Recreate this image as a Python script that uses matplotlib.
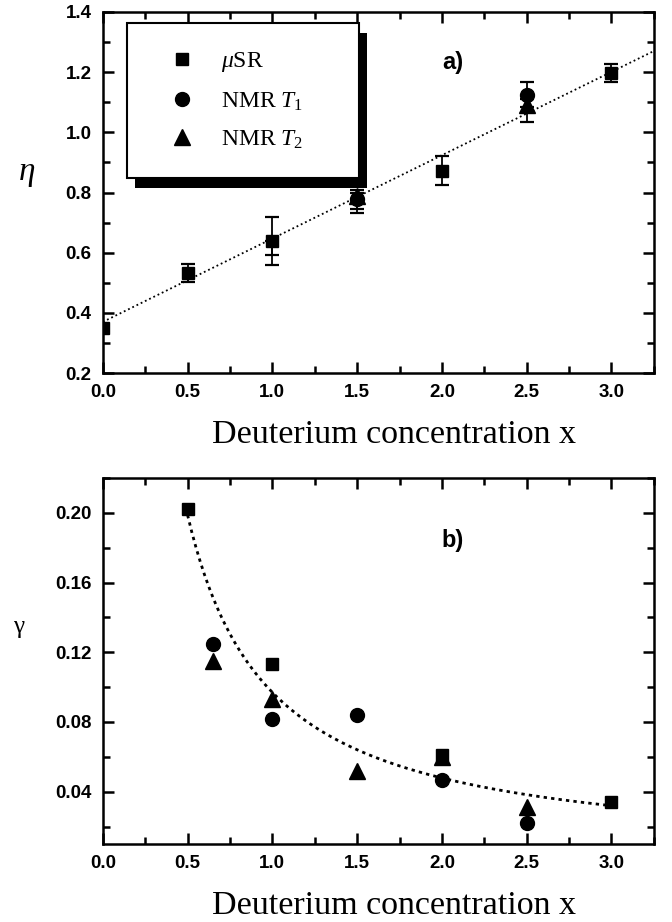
"""
Two panels: eta and gamma vs deuterium concentration, with fit lines.
"""
import numpy as np
import matplotlib
matplotlib.use("Agg")
import matplotlib.pyplot as plt
from matplotlib.lines import Line2D
from matplotlib.patches import Rectangle
from matplotlib.ticker import MultipleLocator, FormatStrFormatter

plt.rcParams.update(
    {
        "font.family": "Liberation Sans",
        "mathtext.fontset": "custom",
        "mathtext.rm": "Liberation Serif",
        "mathtext.it": "Liberation Serif:italic",
        "mathtext.bf": "Liberation Serif:bold",
        "axes.linewidth": 1.8,
    }
)

# ---- panel a) data
eta_musr_x = [0.0, 0.5, 1.0, 2.0, 3.0]
eta_musr = [0.35, 0.532, 0.64, 0.873, 1.197]
eta_musr_err = [0.0, 0.03, 0.08, 0.048, 0.03]

eta_t1_x = [1.5, 2.5]
eta_t1 = [0.78, 1.125]
eta_t1_lo = [0.035, 0.04]
eta_t1_hi = [0.02, 0.042]

# NMR T1 at x=1.0 sits under the muSR square, only its error bar shows
eta_t1_hidden_x = [1.0]
eta_t1_hidden = [0.64]
eta_t1_hidden_err = [0.048]

eta_t2_x = [1.5, 2.5]
eta_t2 = [0.79, 1.09]
eta_t2_lo = [0.058, 0.056]
eta_t2_hi = [0.02, 0.02]

eta_fit_intercept = 0.370
eta_fit_slope = 0.277

# ---- panel b) data
gam_musr_x = [0.5, 1.0, 2.0, 3.0]
gam_musr = [0.202, 0.113, 0.061, 0.034]
gam_t1_x = [0.65, 1.0, 1.5, 2.0, 2.5]
gam_t1 = [0.125, 0.082, 0.084, 0.047, 0.022]
gam_t2_x = [0.65, 1.0, 1.5, 2.0, 2.5]
gam_t2 = [0.115, 0.093, 0.052, 0.060, 0.031]

# gamma fit: a * x**(-b) + c
gam_fit_a, gam_fit_b, gam_fit_c = 0.095, 1.05, 0.002
gam_fit_range = (0.5, 3.0)

XLABEL = "Deuterium concentration x"
LABELS = [r"$\mu$SR", r"NMR $T_{\mathit{1}}$", r"NMR $T_{\mathit{2}}$"]

fig = plt.figure(figsize=(6.72, 9.22), dpi=100)
ax1 = fig.add_axes([0.153, 0.5954, 0.82, 0.3916])
ax2 = fig.add_axes([0.153, 0.0846, 0.82, 0.397])

msq = dict(marker="s", ms=9, color="black", ls="none")
mci = dict(marker="o", ms=10, color="black", ls="none")
mtr = dict(marker="^", ms=11, color="black", ls="none")
ebar = dict(ecolor="black", elinewidth=1.3, capsize=5, capthick=1.6)


def style_axes(ax):
    ax.set_xlim(0, 3.25)
    ax.xaxis.set_major_locator(MultipleLocator(0.5))
    ax.xaxis.set_minor_locator(MultipleLocator(0.25))
    ax.xaxis.set_major_formatter(FormatStrFormatter("%.1f"))
    ax.tick_params(which="both", direction="in", top=True, right=True,
                   width=1.8)
    ax.tick_params(which="major", length=8, labelsize=13.5)
    ax.tick_params(which="minor", length=5)
    ax.tick_params(axis="x", pad=8)
    ax.tick_params(axis="y", pad=8)
    for lab in ax.get_xticklabels() + ax.get_yticklabels():
        lab.set_fontweight("bold")
    ax.set_xlabel(XLABEL, fontfamily="Liberation Serif", fontsize=24.5,
                  labelpad=13)
    ax.xaxis.label.set_x(0.528)


# ---- a)
xf = np.array([0.0, 3.25])
ax1.plot(xf, eta_fit_intercept + eta_fit_slope * xf, color="black",
         lw=1.3, ls=(0, (1, 1.6)), zorder=2)
ax1.errorbar(eta_t1_hidden_x, eta_t1_hidden, yerr=[eta_t1_hidden_err, [0]],
             fmt="none", zorder=3, **ebar)
ax1.errorbar(eta_t1_x, eta_t1, yerr=[eta_t1_lo, eta_t1_hi], zorder=3,
             **mci, **ebar)
ax1.errorbar(eta_t2_x, eta_t2, yerr=[eta_t2_lo, eta_t2_hi], zorder=3,
             **mtr, **ebar)
ax1.errorbar(eta_musr_x, eta_musr, yerr=eta_musr_err, zorder=4,
             **msq, **ebar)
ax1.set_ylim(0.2, 1.4)
ax1.yaxis.set_major_locator(MultipleLocator(0.2))
ax1.yaxis.set_minor_locator(MultipleLocator(0.1))
ax1.yaxis.set_major_formatter(FormatStrFormatter("%.1f"))
style_axes(ax1)
ax1.set_ylabel(r"$\eta$", fontsize=24, rotation=0, ha="center", va="center")
ax1.yaxis.set_label_coords(-0.138, 0.554)
ax1.text(0.635, 0.859, "a)", transform=ax1.transAxes, fontsize=17,
         fontweight="bold", ha="center", va="center")

handles = [Line2D([], [], **msq), Line2D([], [], **mci), Line2D([], [], **mtr)]
leg = ax1.legend(handles, LABELS, loc="upper left",
                 bbox_to_anchor=(0.0436, 0.5, 0.421, 0.4695), mode="expand",
                 frameon=True, fancybox=False, framealpha=1,
                 edgecolor="black",
                 prop={"family": "Liberation Serif", "size": 17},
                 borderpad=1.15, handlelength=2.4, handletextpad=0.45,
                 labelspacing=0.68, borderaxespad=0)
leg.get_frame().set_linewidth(1.5)
leg.set_zorder(6)

# ---- b)
xg = np.linspace(*gam_fit_range, 200)
ax2.plot(xg, gam_fit_a * xg ** (-gam_fit_b) + gam_fit_c, color="black",
         lw=2.0, ls=(0, (1.2, 1.5)), zorder=2)
ax2.plot(gam_t2_x, gam_t2, zorder=3, **mtr)
ax2.plot(gam_t1_x, gam_t1, zorder=3, **mci)
ax2.plot(gam_musr_x, gam_musr, zorder=4, **msq)
ax2.set_ylim(0.01, 0.22)
ax2.yaxis.set_major_locator(MultipleLocator(0.04))
ax2.yaxis.set_minor_locator(MultipleLocator(0.02))
ax2.yaxis.set_major_formatter(FormatStrFormatter("%.2f"))
style_axes(ax2)
ax2.set_ylabel(r"$\mathrm{\gamma}$", fontsize=18, rotation=0, ha="center",
               va="center")
ax2.yaxis.set_label_coords(-0.151, 0.59)
ax2.text(0.635, 0.828, "b)", transform=ax2.transAxes, fontsize=17,
         fontweight="bold", ha="center", va="center")

# legend drop shadow
fig.canvas.draw()
bb = leg.get_frame().get_window_extent().transformed(fig.transFigure.inverted())
ox, oy = 8 / 672, -10 / 922
ax1.add_patch(Rectangle((bb.x0 + ox, bb.y0 + oy), bb.width, bb.height,
                        transform=fig.transFigure, facecolor="black",
                        edgecolor="none", zorder=5.5, clip_on=False))

fig.savefig("out.png", dpi=100)
